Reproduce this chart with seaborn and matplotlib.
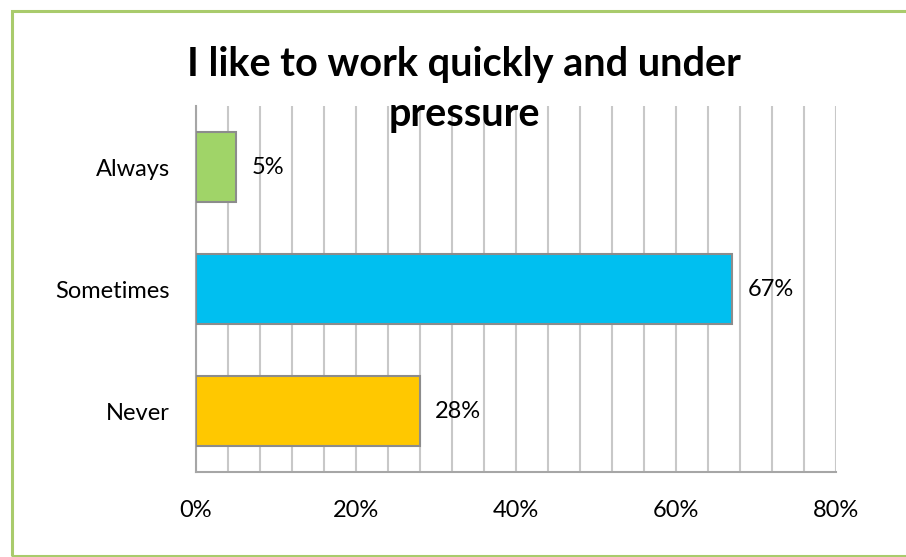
import matplotlib.pyplot as plt
import seaborn as sns
import pandas as pd
from matplotlib.patches import Rectangle
from matplotlib.ticker import MultipleLocator, PercentFormatter

# Data
answers = ["Always", "Sometimes", "Never"]
shares = [5, 67, 28]
colors = ["#A0D468", "#00BFF0", "#FFC800"]

df = pd.DataFrame({"answer": answers, "share": shares})

sns.set_style("white")
plt.rcParams["font.family"] = ["Lato", "DejaVu Sans"]
plt.rcParams["text.color"] = "black"
plt.rcParams["xtick.color"] = "black"
plt.rcParams["ytick.color"] = "black"

fig = plt.figure(figsize=(9.06, 5.57), dpi=100)
ax = fig.add_axes([196 / 906, 85 / 557, 640 / 906, 366 / 557])

sns.barplot(data=df, x="share", y="answer", hue="answer", palette=colors,
            orient="h", width=0.57, saturation=1, edgecolor="#8C8C8C",
            linewidth=1.5, legend=False, ax=ax, zorder=3)

ax.set_xlim(0, 80)
ax.xaxis.set_major_locator(MultipleLocator(20))
ax.xaxis.set_minor_locator(MultipleLocator(4))
ax.xaxis.set_major_formatter(PercentFormatter(decimals=0))
ax.grid(axis="x", which="both", color="#C8C8C8", linewidth=1.5, zorder=0)
ax.set_axisbelow(True)
ax.set_xlabel("")
ax.set_ylabel("")
ax.tick_params(axis="x", which="both", length=0, pad=20, labelsize=17)
ax.tick_params(axis="y", length=0, pad=19, labelsize=17)

for side in ["top", "right"]:
    ax.spines[side].set_visible(False)
for side in ["left", "bottom"]:
    ax.spines[side].set_color("#A6A6A6")
    ax.spines[side].set_linewidth(1.5)

for cont in ax.containers:
    ax.bar_label(cont, labels=[f"{v:.0f}%" for v in cont.datavalues],
                 padding=11, fontsize=17)

fig.text(464 / 906, 1 - 46 / 557, "I like to work quickly and under\npressure",
         ha="center", va="top", fontsize=28.5, fontweight="bold", linespacing=1.42,
         zorder=5)

# green frame
fig.patches.append(Rectangle((11.5 / 906, 1.5 / 557), 1.2, 544.5 / 557,
                             transform=fig.transFigure, fill=False,
                             edgecolor="#A9CB6C", linewidth=2.2))

fig.savefig("out.png", dpi=100)
